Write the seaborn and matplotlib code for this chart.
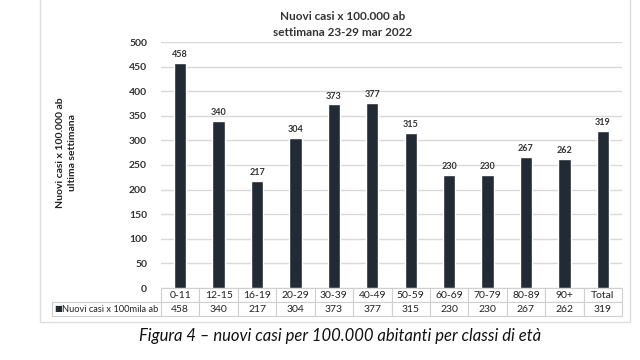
import matplotlib
matplotlib.use("Agg")
import matplotlib.pyplot as plt
import seaborn as sns
import pandas as pd

# data
classi = ["0-11", "12-15", "16-19", "20-29", "30-39", "40-49",
          "50-59", "60-69", "70-79", "80-89", "90+", "Total"]
casi = [458, 340, 217, 304, 373, 377, 315, 230, 230, 267, 262, 319]
yticks = [0, 50, 100, 150, 200, 250, 300, 350, 400, 450, 500]
serie = "Nuovi casi x 100mila ab"

df = pd.DataFrame({"Classe": classi, "Casi": casi})

sns.set_theme(style="white")
plt.rcParams["font.family"] = ["Lato", "DejaVu Sans"]

bar_color = "#212a35"
grid_color = "#d9d9d9"

fig = plt.figure(figsize=(6.4, 3.6), dpi=100)
ax = fig.add_axes([161 / 640, 1 - 288 / 360, 461 / 640, 246 / 360])

sns.barplot(data=df, x="Classe", y="Casi", color=bar_color, width=0.32,
            saturation=1, ax=ax, zorder=3)

ax.set_ylim(0, 500)
ax.set_yticks(yticks)
ax.set_yticklabels([str(t) for t in yticks], fontsize=7.5, fontweight="bold",
                   color="#333333")
ax.tick_params(axis="y", length=0, pad=10)
ax.set_xticks([])
ax.set_xlabel("")
ax.set_xlim(-0.5, len(classi) - 0.5)
ax.grid(axis="y", color=grid_color, linewidth=1, zorder=0)
for s in ax.spines.values():
    s.set_visible(False)

for i, v in enumerate(casi):
    ax.text(i, v + 8, str(v), ha="center", va="bottom", fontsize=6.5,
            fontweight="bold", color="#333333")

# data table under the bars
label_w = 109 / 461
col_w = 1 / len(classi)
cell_text = [[""] + [str(v) for v in casi]]
tab = ax.table(cellText=cell_text, colLabels=[""] + classi,
               colWidths=[label_w] + [col_w] * len(classi),
               bbox=[-label_w, -28 / 246, 1 + label_w, 28 / 246],
               cellLoc="center")
tab.auto_set_font_size(False)
tab.set_fontsize(7.5)
for (r, c), cell in tab.get_celld().items():
    cell.set_edgecolor("#cfcfcf")
    cell.set_linewidth(0.8)
    cell.get_text().set_color("#222222")
    if r == 0 and c == 0:
        cell.visible_edges = ""

# legend key + series name in the first table cell
ax.text((54 - 161) / 461, -21 / 246, "\u25a0", transform=ax.transAxes,
        ha="left", va="center", fontsize=6, color=bar_color, clip_on=False,
        family="DejaVu Sans")
ax.text((62 - 161) / 461, -21 / 246, serie, transform=ax.transAxes,
        ha="left", va="center", fontsize=6.7, color="#222222", clip_on=False)

ax.set_ylabel("Nuovi casi x 100.000 ab\nultima settimana", fontsize=7.5,
              fontweight="bold", color="#222222", linespacing=1.4)
ax.yaxis.set_label_coords((77 - 161) / 461, (288 - 153) / 246)

fig.text(343 / 640, 1 - 16 / 360, "Nuovi casi x 100.000 ab", ha="center",
         va="center", fontsize=8.5, fontweight="bold", color="#333333")
fig.text(343 / 640, 1 - 32 / 360, "settimana 23-29 mar 2022", ha="center",
         va="center", fontsize=8.5, fontweight="bold", color="#333333")

# light frame around the chart area
frame = plt.Rectangle((40 / 640, 1 - 322 / 360), 590 / 640, 322 / 360 + 0.01,
                      transform=fig.transFigure, fill=False,
                      edgecolor="#dddddd", linewidth=1)
fig.add_artist(frame)

fig.text(340 / 640, 1 - 336 / 360,
         "Figura 4 \u2013 nuovi casi per 100.000 abitanti per classi di et\u00e0",
         ha="center", va="center", fontsize=12, style="italic", color="#111111")

fig.savefig("out.png", dpi=100)
